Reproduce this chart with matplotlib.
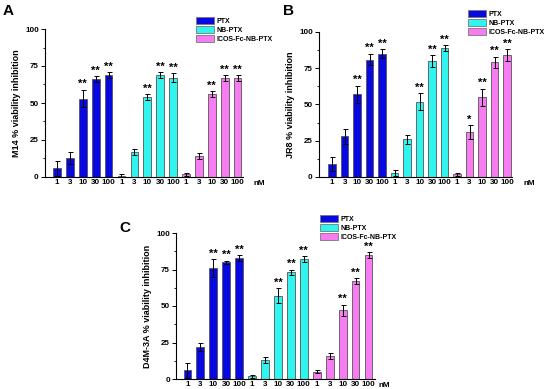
import numpy as np
import matplotlib
matplotlib.use("Agg")
import matplotlib.pyplot as plt
from matplotlib.patches import Patch

plt.rcParams['font.family'] = ['Liberation Sans', 'DejaVu Sans']
plt.rcParams['font.weight'] = 'bold'

doses = ["1", "3", "10", "30", "100"]
groups = ["PTX", "NB-PTX", "ICOS-Fc-NB-PTX"]
colors = ["#0808E0", "#30F4EE", "#F77CF2"]

# panel A - M14
m14_mean = [[6, 13, 53, 66, 69], [1, 17, 54, 69, 67], [2, 14, 56, 67, 67]]
m14_err = [[5, 4, 6, 2, 2], [1, 2, 2, 2, 3], [1, 2, 2, 2, 2]]
m14_sig = [["", "", "**", "**", "**"], ["", "", "**", "**", "**"], ["", "", "**", "**", "**"]]

# panel B - JR8
jr8_mean = [[9, 28, 57, 81, 85], [3, 26, 52, 80, 89], [2, 31, 55, 79, 84]]
jr8_err = [[5, 5, 6, 4, 3], [2, 3, 6, 4, 2], [1, 5, 6, 4, 4]]
jr8_sig = [["", "", "**", "**", "**"], ["", "", "**", "**", "**"], ["", "*", "**", "**", "**"]]

# panel C - D4M-3A
d4m_mean = [[6, 22, 76, 80, 83], [2, 13, 57, 73, 82], [5, 16, 47, 67, 85]]
d4m_err = [[5, 3, 6, 1, 2], [1, 2, 5, 2, 2], [1, 2, 4, 2, 2]]
d4m_sig = [["", "", "**", "**", "**"], ["", "", "**", "**", "**"], ["", "", "**", "**", "**"]]

W, H = 550, 389
fig = plt.figure(figsize=(W / 100, H / 100), dpi=100)


def panel(rect, xlim, mean, err, sig, ylabel, nm_x, letter, letter_xy, leg_xy):
    l, t, r, b = rect
    ax = fig.add_axes([l / W, 1 - b / H, (r - l) / W, (b - t) / H])
    x = 0
    ticks = []
    for g in range(3):
        for i in range(5):
            ax.bar(x, mean[g][i], width=0.6, color=colors[g], edgecolor="#555555", linewidth=0.6)
            ax.errorbar(x, mean[g][i], yerr=err[g][i], color="black", capsize=1.8,
                        elinewidth=0.7, capthick=0.7)
            if sig[g][i]:
                ax.text(x, mean[g][i] + err[g][i] + 0.3, sig[g][i], ha="center", va="bottom",
                        fontsize=8, fontweight="bold")
            ticks.append(x)
            x += 1
    ax.set_xticks(ticks)
    ax.set_xticklabels(doses * 3, fontsize=5.8, fontweight="bold")
    ax.tick_params(axis="x", length=0, pad=1.5)
    ax.set_xlim(*xlim)
    ax.set_ylim(0, 100)
    ax.set_yticks([0, 25, 50, 75, 100])
    ax.set_yticks([12.5, 37.5, 62.5, 87.5], minor=True)
    ax.tick_params(axis="y", direction="out", length=3, width=0.7, labelsize=5.8, pad=1.5)
    ax.tick_params(axis="y", which="minor", length=1.8, width=0.6)
    for lab in ax.get_yticklabels():
        lab.set_fontweight("bold")
    ax.spines["top"].set_visible(False)
    ax.spines["right"].set_visible(False)
    ax.spines["left"].set_linewidth(0.8)
    ax.spines["bottom"].set_linewidth(0.8)
    ax.set_ylabel(ylabel, fontsize=6.5, fontweight="bold", labelpad=3)
    ax.text(nm_x, -4.2, "nM", fontsize=5.8, fontweight="bold", ha="center", va="center",
            clip_on=False)
    fig.text(letter_xy[0] / W, 1 - letter_xy[1] / H, letter, fontsize=11, fontweight="bold",
             ha="center", va="center")
    handles = [Patch(facecolor=c, edgecolor="#777777", linewidth=0.6) for c in colors]
    fig.legend(handles, groups, loc="upper left",
               bbox_to_anchor=(leg_xy[0] / W, 1 - leg_xy[1] / H), frameon=False,
               handlelength=2.6, handleheight=1.15, handletextpad=0.3,
               labelspacing=0.2, borderpad=0, borderaxespad=0,
               prop={"weight": "bold", "size": 5})
    return ax


panel((45, 29, 243, 177), (-0.93, 14.42), m14_mean, m14_err, m14_sig,
      "M14 % viability inhibition", 15.65, "A", (8, 11), (196, 17))
panel((319, 32, 512, 177), (-1.05, 14.4), jr8_mean, jr8_err, jr8_sig,
      "JR8 % viability inhibition", 15.75, "B", (288, 11), (468, 10))
panel((176, 233, 375, 379), (-0.88, 14.5), d4m_mean, d4m_err, d4m_sig,
      "D4M-3A % viability inhibition", 15.2, "C", (125, 228), (320, 215))

fig.savefig("out.png", dpi=100)
